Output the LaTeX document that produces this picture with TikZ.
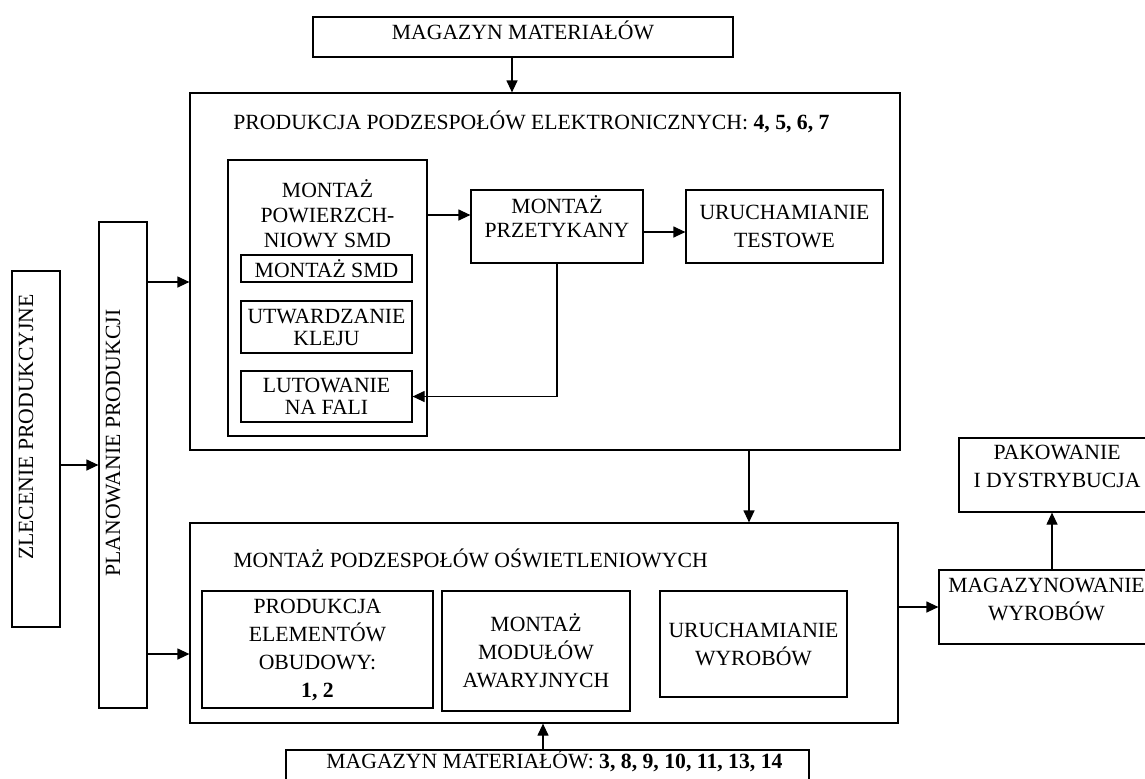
\documentclass[tikz,border=0pt]{standalone}
\usepackage{fontspec}
\setmainfont{Liberation Serif}
\usetikzlibrary{arrows.meta}

\tikzset{
    box/.style={draw, line width=0.6pt, inner sep=1pt, align=center},
    txt/.style={inner sep=0pt, align=center},
    arr/.style={-{Triangle[length=6pt, width=5.5pt]}, line width=0.6pt},
    lines/.style={font=\fontsize{10.85}{#1}\selectfont},
}

\begin{document}
\begin{tikzpicture}[x=0.5pt, y=-0.5pt, font=\fontsize{10.85}{14}\selectfont]
        \useasboundingbox (0,0) rectangle (1145,778);

        \node[box, minimum width=210pt, minimum height=20pt] (magtop) at (523,37) {};
        \node[txt, anchor=base] (magtoptxt) at (523,39) {MAGAZYN MATERIAŁÓW};

        \node[box, minimum width=24pt, minimum height=178pt] (zlec) at (36,449) {};
        \node[txt, rotate=90, anchor=base] (zlectxt) at (33,427) {ZLECENIE PRODUKCYJNE};
        \node[box, minimum width=24pt, minimum height=243pt] (plan) at (123,465) {};
        \node[txt, rotate=90, anchor=base] (plantxt) at (120,443) {PLANOWANIE PRODUKCJI};

        \node[box, minimum width=355pt, minimum height=178.5pt] (elec) at (545,271.5) {};
        \node[txt, anchor=base west] (electxt) at (233,129) {PRODUKCJA PODZESPOŁÓW ELEKTRONICZNYCH: \textbf{4, 5, 6, 7}};
        \node[box, minimum width=99.5pt, minimum height=138pt] (smd) at (327.5,298) {};
        \node[txt, anchor=base, lines=12.5] (smdtxt) at (327.5,247) {MONTAŻ\\POWIERZCH-\\NIOWY SMD};
        \node[box, minimum width=85.5pt, minimum height=13.5pt] (smda) at (326.5,268.5) {MONTAŻ SMD};
        \node[box, minimum width=85.5pt, minimum height=26pt, lines=11] (smdb) at (326.5,327) {UTWARDZANIE\\KLEJU};
        \node[box, minimum width=85.5pt, minimum height=25.5pt, lines=11] (smdc) at (326.5,396.5) {LUTOWANIE\\NA FALI};
        \node[box, minimum width=86pt, minimum height=36.5pt] (przet) at (557,226.5) {};
        \node[txt, anchor=base, lines=12] (przettxt) at (557,237) {MONTAŻ\\PRZETYKANY};
        \node[box, minimum width=98.5pt, minimum height=36.5pt] (test) at (784.5,226.5) {URUCHAMIANIE\\TESTOWE};

        \node[box, minimum width=354pt, minimum height=100pt] (osw) at (544,623) {};
        \node[txt, anchor=base west] (oswtxt) at (233,567) {MONTAŻ PODZESPOŁÓW OŚWIETLENIOWYCH};
        \node[box, minimum width=115.5pt, minimum height=58.5pt] (obud) at (317.5,649.5) {PRODUKCJA\\ELEMENTÓW\\OBUDOWY:\\\textbf{1, 2}};
        \node[box, minimum width=94pt, minimum height=60pt] (awar) at (536,651) {MONTAŻ\\MODUŁÓW\\AWARYJNYCH};
        \node[box, minimum width=93.5pt, minimum height=53pt] (wyrob) at (753.5,644) {URUCHAMIANIE\\WYROBÓW};

        \node[box, minimum width=261.5pt, minimum height=22.5pt] (magbot) at (547.5,772.5) {};
        \node[txt, anchor=base west] (magbottxt) at (326,768) {MAGAZYN MATERIAŁÓW: \textbf{3, 8, 9, 10, 11, 13, 14}};

        \node[box, minimum width=107.5pt, minimum height=37pt] (magaz) at (1046.5,607) {};
        \node[txt, anchor=base] (magaztxt) at (1046.5,620) {MAGAZYNOWANIE\\WYROBÓW};
        \node[box, minimum width=98pt, minimum height=37pt] (pak) at (1057,475) {};
        \node[txt, anchor=base] (paktxt) at (1057,487) {PAKOWANIE\\I DYSTRYBUCJA};

        \draw[arr] ([xshift=-5.5pt]magtop.south) -- ([xshift=-5.5pt]magtop.south |- elec.north);
        \draw[arr] (zlec.east |- plan.center) -- (plan.west |- plan.center);
        \draw[arr] (plan.east |- 0,282) -- (elec.west |- 0,282);
        \draw[arr] (plan.east |- 0,654) -- (osw.west |- 0,654);
        \draw[arr] (smd.east |- 0,215) -- (przet.west |- 0,215);
        \draw[arr] (przet.east |- 0,232) -- (test.west |- 0,232);
        \draw[arr] (przet.south) |- (smdc.east);
        \draw[arr] (elec.south -| 749,0) -- (osw.north -| 749,0);
        \draw[arr] (magbot.north -| 543,0) -- (osw.south -| 543,0);
        \draw[arr] (osw.east |- magaz.west) -- (magaz.west);
        \draw[arr] (magaz.north -| 1052,0) -- (pak.south -| 1052,0);
\end{tikzpicture}
\end{document}
